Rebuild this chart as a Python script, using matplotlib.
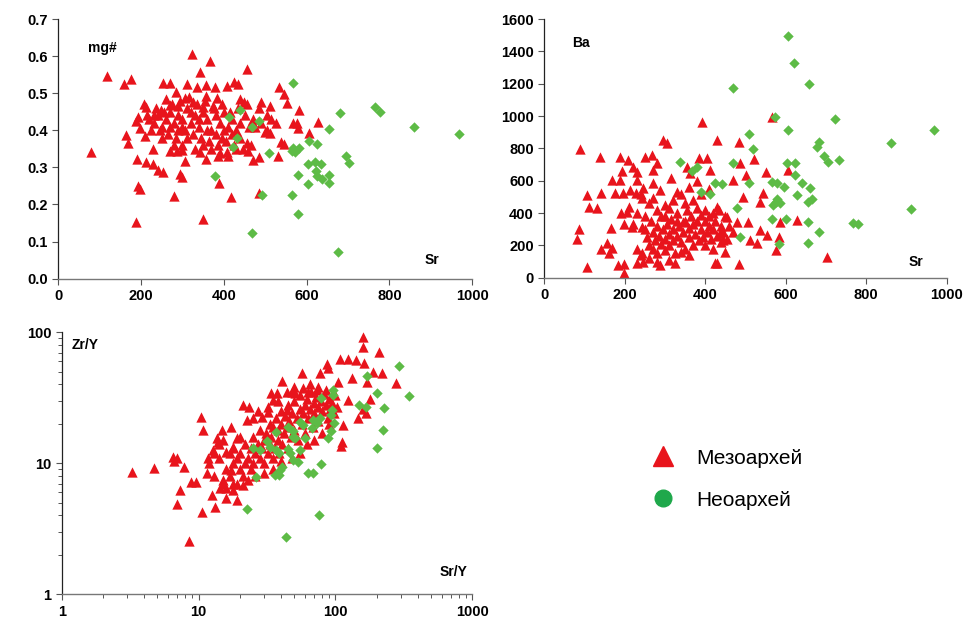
import matplotlib
matplotlib.use('Agg')
import matplotlib.pyplot as plt
from matplotlib.lines import Line2D
from matplotlib.ticker import LogLocator, NullFormatter, FixedLocator
import numpy as np

plt.rcParams['font.family'] = ['Liberation Sans', 'DejaVu Sans']

# --- data ---
# Sr vs mg#, Mesoarchean (red triangles)
mg_meso = [
    (79, 0.342), (118, 0.547), (159, 0.526), (175, 0.539), (324, 0.607), (366, 0.588),
    (342, 0.558), (455, 0.564), (163, 0.387), (169, 0.367), (191, 0.323), (212, 0.315),
    (229, 0.308), (241, 0.293), (253, 0.287), (193, 0.251), (197, 0.242), (187, 0.152),
    (279, 0.223), (294, 0.281), (300, 0.273), (306, 0.317), (349, 0.160), (388, 0.257),
    (418, 0.221), (486, 0.230), (471, 0.320), (484, 0.329), (531, 0.332), (539, 0.368),
    (545, 0.363), (532, 0.518), (544, 0.497), (553, 0.473), (582, 0.455), (568, 0.419),
    (576, 0.419), (578, 0.407), (606, 0.392), (628, 0.421), (511, 0.465), (503, 0.441),
    (499, 0.396), (511, 0.392), (489, 0.477), (486, 0.459), (456, 0.365), (458, 0.344),
    (407, 0.519), (425, 0.531), (433, 0.525), (439, 0.483), (448, 0.477), (408, 0.342),
    (342, 0.342), (357, 0.322), (270, 0.345), (286, 0.345), (300, 0.347), (229, 0.349),
    (207, 0.470), (211, 0.464), (192, 0.437), (188, 0.426), (197, 0.407), (209, 0.385),
    (254, 0.527), (270, 0.527), (285, 0.504), (260, 0.483), (249, 0.455), (312, 0.524),
    (334, 0.518), (356, 0.522), (378, 0.518), (358, 0.493), (384, 0.486), (374, 0.465),
    (350, 0.462), (326, 0.477), (306, 0.486), (290, 0.465), (270, 0.468),
    (220, 0.43), (230, 0.42), (240, 0.44), (250, 0.41), (260, 0.43), (270, 0.45),
    (280, 0.42), (290, 0.44), (300, 0.43), (310, 0.46), (320, 0.42), (330, 0.44),
    (340, 0.41), (350, 0.45), (360, 0.43), (370, 0.40), (380, 0.44), (390, 0.42),
    (400, 0.45), (410, 0.41), (420, 0.43), (430, 0.40), (440, 0.42), (450, 0.44),
    (460, 0.41), (470, 0.43), (245, 0.40), (265, 0.39), (285, 0.38), (305, 0.40),
    (325, 0.39), (345, 0.38), (365, 0.37), (385, 0.36), (405, 0.37), (425, 0.36),
    (275, 0.47), (295, 0.48), (315, 0.49), (335, 0.47), (355, 0.48), (375, 0.46),
    (395, 0.47), (255, 0.45), (235, 0.46), (215, 0.44), (225, 0.40), (300, 0.41),
    (320, 0.45), (340, 0.43), (360, 0.40), (380, 0.39), (400, 0.40), (420, 0.39),
    (440, 0.38), (370, 0.35), (390, 0.34), (410, 0.33), (430, 0.35), (395, 0.38),
    (415, 0.45), (435, 0.46), (455, 0.47), (475, 0.41), (490, 0.42), (505, 0.40),
    (515, 0.43), (525, 0.42), (290, 0.40), (310, 0.38), (270, 0.41), (250, 0.38),
    (230, 0.44), (385, 0.33), (445, 0.35), (465, 0.36), (280, 0.36), (300, 0.36),
    (330, 0.35), (350, 0.36),
]
# Sr vs mg#, Neoarchean (green)
mg_neo = [
    (566, 0.527), (680, 0.446), (766, 0.462), (777, 0.450), (859, 0.410), (968, 0.389),
    (655, 0.403), (440, 0.456), (412, 0.437), (469, 0.410), (485, 0.426), (432, 0.378),
    (423, 0.356), (508, 0.338), (568, 0.351), (572, 0.342), (582, 0.351), (564, 0.345),
    (605, 0.371), (624, 0.363), (694, 0.332), (703, 0.313), (603, 0.308), (619, 0.314),
    (634, 0.308), (622, 0.291), (625, 0.277), (638, 0.269), (655, 0.279), (653, 0.259),
    (604, 0.254), (578, 0.279), (378, 0.278), (493, 0.226), (565, 0.226), (578, 0.173),
    (469, 0.122), (676, 0.073),
]

# Sr vs Ba, Mesoarchean
ba_meso = [
    (89, 796), (85, 301), (81, 239), (105, 68), (107, 511), (112, 435), (130, 429),
    (138, 744), (142, 526), (140, 175), (155, 212), (161, 150), (167, 181), (165, 309),
    (167, 604), (176, 526), (188, 748), (192, 662), (188, 604), (190, 398), (196, 522),
    (199, 330), (184, 78), (199, 82), (198, 27), (209, 728), (213, 542), (211, 439),
    (205, 408), (217, 315), (221, 687), (230, 654), (230, 604), (227, 526), (230, 175),
    (230, 89), (249, 748), (246, 553), (244, 495), (242, 315), (244, 150), (246, 95),
    (267, 759), (271, 666), (269, 583), (271, 491), (279, 707), (287, 542), (295, 852),
    (304, 835), (316, 619), (329, 532), (345, 346), (354, 687), (362, 645), (385, 738),
    (404, 738), (391, 965), (412, 666), (429, 852), (484, 841), (486, 707), (470, 604),
    (494, 501), (500, 635), (522, 732), (544, 526), (552, 652), (567, 996), (535, 470),
    (606, 666), (627, 357), (586, 346), (582, 254), (576, 171), (702, 130), (485, 82),
    (430, 89), (424, 89), (325, 89), (287, 78), (536, 295), (528, 212), (511, 233),
    (553, 264), (507, 346), (478, 346), (453, 377), (449, 161), (445, 233), (436, 274),
    (250, 300), (255, 250), (260, 200), (265, 350), (270, 180), (270, 280), (275, 230),
    (280, 320), (280, 150), (285, 260), (290, 380), (290, 210), (295, 300), (300, 240),
    (300, 170), (305, 330), (310, 270), (310, 200), (315, 360), (320, 230), (320, 300),
    (325, 150), (330, 260), (330, 400), (335, 320), (340, 220), (345, 280), (350, 350),
    (350, 180), (355, 420), (360, 250), (360, 310), (365, 380), (370, 200), (370, 330),
    (375, 270), (380, 430), (380, 350), (385, 230), (390, 300), (390, 390), (395, 250),
    (400, 350), (400, 420), (405, 280), (410, 380), (410, 320), (415, 240), (420, 400),
    (420, 300), (425, 350), (430, 260), (435, 420), (440, 320), (445, 280), (450, 380),
    (455, 240), (460, 320), (470, 280), (300, 450), (320, 480), (340, 520), (360, 560),
    (380, 600), (260, 460), (240, 520), (250, 380), (280, 420), (230, 400), (220, 330),
    (240, 140), (260, 120), (280, 100), (300, 380), (310, 430), (330, 350), (350, 460),
    (370, 480), (390, 520), (410, 550), (430, 440), (400, 200), (420, 180), (440, 220),
    (340, 160), (360, 140), (310, 110),
]
# Sr vs Ba, Neoarchean
ba_neo = [
    (606, 1495), (621, 1326), (658, 1196), (470, 1171), (573, 992), (722, 984), (969, 913),
    (606, 913), (509, 887), (518, 796), (683, 841), (677, 808), (696, 753), (704, 718),
    (733, 728), (862, 831), (337, 718), (366, 660), (380, 687), (470, 711), (602, 711),
    (623, 707), (623, 635), (640, 584), (660, 557), (596, 559), (579, 584), (567, 592),
    (509, 588), (442, 581), (424, 588), (412, 515), (389, 532), (627, 511), (656, 470),
    (665, 485), (569, 449), (575, 470), (579, 485), (586, 460), (480, 429), (567, 361),
    (601, 361), (655, 342), (683, 285), (766, 338), (779, 330), (910, 425), (486, 254),
    (582, 206), (656, 216),
]

# Sr/Y vs Zr/Y, Mesoarchean
zr_meso = [
    (3.25, 8.6), (4.72, 9.2), (6.47, 11.2), (6.6, 10.4), (6.9, 10.9), (7.8, 9.3),
    (7.36, 6.25), (7.0, 4.9), (8.75, 7.24), (9.6, 7.24), (8.47, 2.55), (10.6, 4.28),
    (10.4, 22.7), (10.7, 17.8), (13.2, 4.67), (12.5, 5.73), (11.5, 8.4), (11.8, 10.9),
    (12.8, 12.6), (13.6, 15.5), (13.9, 14.6), (14.8, 18.0), (14.3, 6.45), (15.2, 7.0),
    (15.9, 5.4), (17.3, 19.0), (16.0, 12.3), (18.0, 13.4), (18.0, 6.25), (19.0, 5.25),
    (17.2, 8.9), (19.2, 15.5), (21.0, 27.9), (23.5, 27.1), (22.5, 21.4), (25.1, 22.1),
    (28.9, 22.5), (32.3, 24.8), (33.8, 34.2), (37.2, 34.2), (40.5, 42.8), (35.2, 30.4),
    (44, 25.5), (47.9, 35.3), (50.7, 34.6), (56.6, 49.2), (58.2, 37.4), (63.4, 35.3),
    (72.9, 36.3), (77, 48.6), (86.3, 57.3), (88.7, 53.1), (104, 42.0), (108, 62.2),
    (123, 62.2), (141, 61.5), (160, 92.7), (158, 76.8), (163, 58), (133, 45.1),
    (189, 50.1), (218, 49.2), (209, 70.3), (275, 41.3), (169, 42), (179, 30.8),
    (124, 30.4), (145, 22.1), (167, 24.1), (160, 25.8), (114, 19.6), (111, 14.6),
    (110, 13.6), (102, 27.1),
    (15, 7.5), (16, 9), (17, 8), (18, 10), (18, 7), (19, 11), (20, 9), (20, 12), (21, 8),
    (22, 10), (22, 14), (23, 11), (24, 9), (24, 13), (25, 16), (25, 10), (26, 12),
    (27, 14), (28, 11), (28, 18), (29, 13), (30, 15), (30, 10), (31, 17), (32, 12),
    (33, 14), (33, 20), (34, 16), (35, 11), (35, 19), (36, 13), (37, 22), (38, 15),
    (38, 18), (39, 12), (40, 20), (40, 25), (41, 14), (42, 17), (43, 23), (44, 19),
    (45, 13), (45, 28), (46, 21), (47, 16), (48, 24), (50, 18), (50, 30), (52, 22),
    (53, 15), (55, 26), (55, 33), (57, 20), (58, 24), (60, 28), (60, 17), (62, 31),
    (63, 22), (65, 26), (66, 35), (68, 19), (70, 29), (70, 24), (72, 32), (75, 27),
    (75, 21), (78, 30), (80, 25), (82, 34), (85, 28), (88, 22), (90, 31), (92, 26),
    (95, 29), (98, 24), (100, 33), (12, 10), (13, 12), (13, 8), (14, 11), (14, 14),
    (16, 6.5), (17, 12), (19, 7), (21, 6.8), (23, 7.5), (26, 8), (30, 8.5), (35, 9),
    (40, 10.5), (48, 11), (55, 12), (62, 14), (70, 15), (80, 17), (90, 20), (20, 16),
    (18, 13), (15, 15), (27, 25), (32, 27), (38, 30), (44, 35), (50, 38), (65, 40),
    (75, 38), (85, 36),
]
# Sr/Y vs Zr/Y, Neoarchean
zr_neo = [
    (290, 55.7), (344, 32.7), (169, 46.4), (200, 34.2), (228, 26.6), (149, 27.9),
    (166, 27.1), (224, 17.8), (200, 13.0), (96.5, 36.3), (96.5, 33.2), (79, 31.3),
    (95, 25.5), (93, 23.4), (98, 20.2), (93, 17.5), (88.7, 15.5), (77, 22.1), (69, 21.4),
    (73, 20.2), (67, 18.5), (58, 19.6), (55, 20.8), (44.8, 19.0), (49, 17.5), (49, 16.0),
    (51, 15.5), (60, 15.7), (37, 17.2), (31.4, 14.9), (33.2, 13.4), (37, 12.6),
    (39, 11.9), (25.1, 13.2), (28.1, 12.6), (45, 12.8), (46.5, 11.9), (55, 12.6),
    (49, 10.6), (53, 10.3), (40.5, 9.4), (39.3, 8.9), (36.2, 8.1), (39, 8.1), (63, 8.5),
    (69, 8.5), (78, 9.8), (26.3, 7.9), (22.5, 4.45), (75.8, 4.03), (43.5, 2.75),
]

legend_labels = ['Мезоархей', 'Неоархей']

RED = '#E8141C'
GREEN = '#5DBB46'
TRI_S = 55
DIA_S = 28

fig = plt.figure(figsize=(9.73, 6.23), dpi=100)


def style_axes(ax):
    for s in ['top', 'right']:
        ax.spines[s].set_visible(False)
    ax.spines['left'].set_linewidth(0.9)
    ax.spines['left'].set_color('#222222')
    ax.spines['bottom'].set_linewidth(1.0)
    ax.spines['bottom'].set_color('#777777')
    ax.tick_params(direction='out', length=4, width=0.8, colors='#555555',
                   labelcolor='black', labelsize=10.5)
    for lab in ax.get_xticklabels() + ax.get_yticklabels():
        lab.set_fontweight('bold')


def scatter(ax, meso, neo):
    m = np.array(meso)
    n = np.array(neo)
    ax.scatter(m[:, 0], m[:, 1], marker='^', s=TRI_S, c=RED, linewidths=0, zorder=2)
    ax.scatter(n[:, 0], n[:, 1], marker='D', s=DIA_S, c=GREEN, linewidths=0, zorder=3)


# Panel 1: Sr - mg#
ax1 = fig.add_axes([0.0599, 0.5527, 0.4255, 0.4168])
scatter(ax1, mg_meso, mg_neo)
ax1.set_xlim(0, 1000)
ax1.set_ylim(0, 0.7)
ax1.set_xticks(np.arange(0, 1001, 200))
ax1.set_yticks(np.arange(0, 0.71, 0.1))
ax1.set_yticklabels(['%.1f' % v for v in np.arange(0, 0.71, 0.1)])
style_axes(ax1)
ax1.text(0.072, 0.888, 'mg#', transform=ax1.transAxes, fontsize=10, fontweight='bold', va='center')
ax1.text(0.885, 0.072, 'Sr', transform=ax1.transAxes, fontsize=10, fontweight='bold', va='center')

# Panel 2: Sr - Ba
ax2 = fig.add_axes([0.5594, 0.5543, 0.4136, 0.4152])
scatter(ax2, ba_meso, ba_neo)
ax2.set_xlim(0, 1000)
ax2.set_ylim(0, 1600)
ax2.set_xticks(np.arange(0, 1001, 200))
ax2.set_yticks(np.arange(0, 1601, 200))
style_axes(ax2)
ax2.text(0.07, 0.907, 'Ba', transform=ax2.transAxes, fontsize=10, fontweight='bold', va='center')
ax2.text(0.905, 0.06, 'Sr', transform=ax2.transAxes, fontsize=10, fontweight='bold', va='center')

# Panel 3: Sr/Y - Zr/Y (log-log)
ax3 = fig.add_axes([0.0634, 0.0461, 0.422, 0.4205])
scatter(ax3, zr_meso, zr_neo)
ax3.set_xscale('log')
ax3.set_yscale('log')
ax3.set_xlim(1, 1000)
ax3.set_ylim(1, 100)
ax3.xaxis.set_major_locator(FixedLocator([1, 10, 100, 1000]))
ax3.yaxis.set_major_locator(FixedLocator([1, 10, 100]))
ax3.set_xticklabels(['1', '10', '100', '1000'])
ax3.set_yticklabels(['1', '10', '100'])
ax3.xaxis.set_minor_locator(LogLocator(base=10, subs=np.arange(2, 10)))
ax3.yaxis.set_minor_locator(LogLocator(base=10, subs=np.arange(2, 10)))
ax3.xaxis.set_minor_formatter(NullFormatter())
ax3.yaxis.set_minor_formatter(NullFormatter())
style_axes(ax3)
ax3.tick_params(which='minor', direction='out', length=3, width=0.7, colors='#555555')
ax3.text(0.025, 0.95, 'Zr/Y', transform=ax3.transAxes, fontsize=10, fontweight='bold', va='center')
ax3.text(0.92, 0.085, 'Sr/Y', transform=ax3.transAxes, fontsize=10, fontweight='bold', va='center')

# Legend
handles = [
    Line2D([], [], marker='^', linestyle='none', color=RED, markersize=15),
    Line2D([], [], marker='o', linestyle='none', color='#1FA84B', markersize=12),
]
fig.legend(handles, legend_labels, loc='center left',
           bbox_to_anchor=(0.658, 0.231), frameon=False, fontsize=15,
           labelspacing=1.1, handletextpad=1.0, handlelength=1.2, borderpad=0)

plt.savefig('out.png', dpi=100)
